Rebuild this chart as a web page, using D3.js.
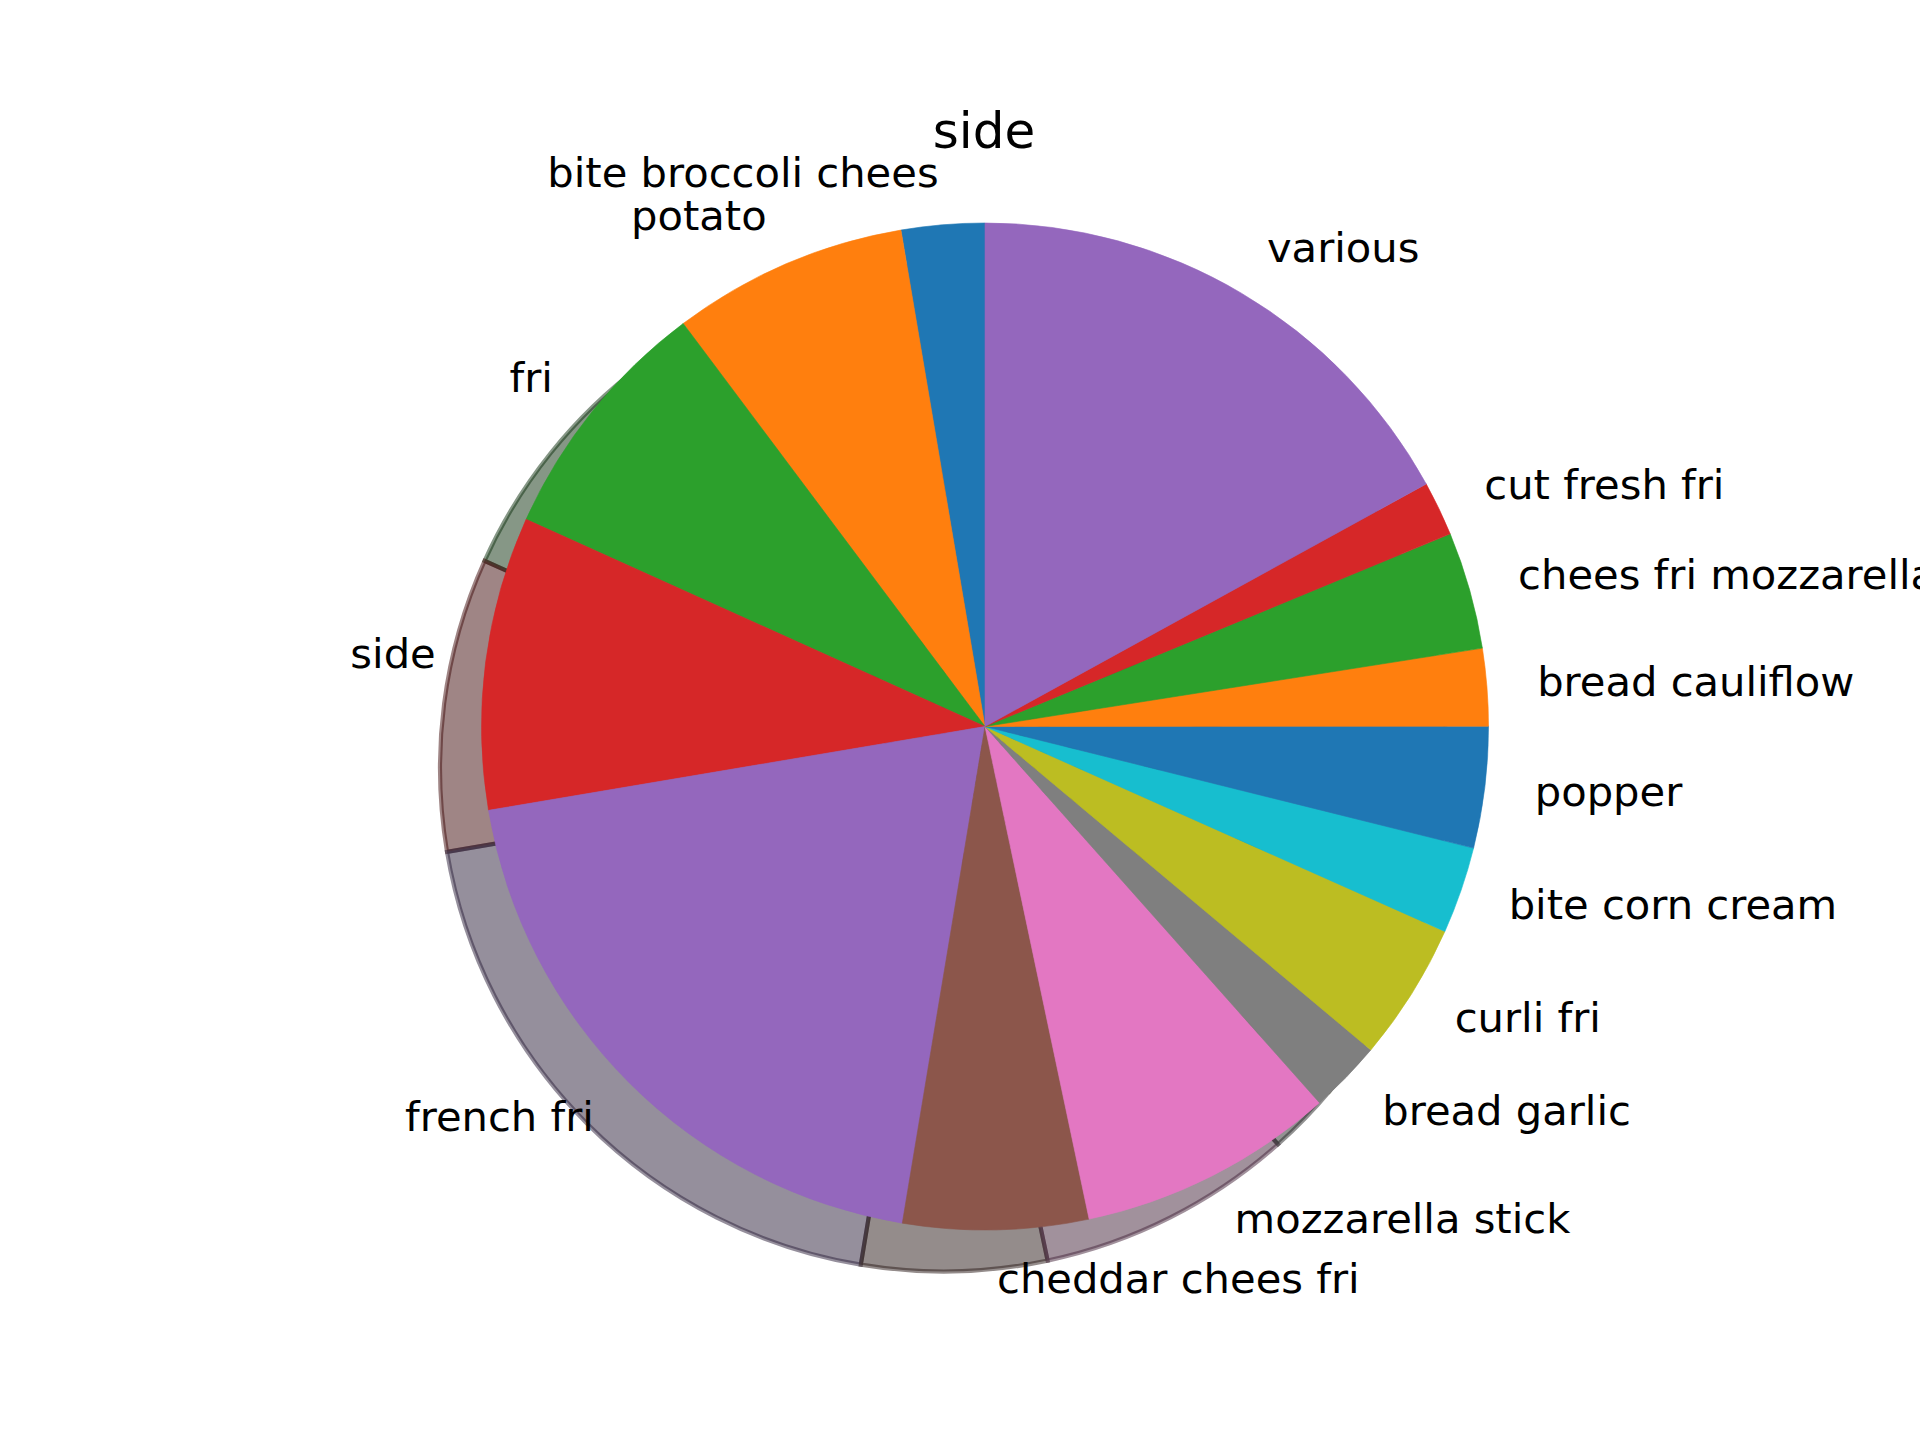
<!DOCTYPE html>
<html>
<head>
<meta charset="utf-8">
<script src="https://cdn.jsdelivr.net/npm/d3@7"></script>
<style>
  html, body { margin: 0; padding: 0; background: #ffffff; }
  svg { display: block; }
  text { font-family: "DejaVu Sans", sans-serif; fill: #000; }
</style>
</head>
<body>
<script>
// ---- data (share of total, %), counterclockwise from the top ----
const categories = [
  "bite broccoli chees", "potato", "fri", "side", "french fri",
  "cheddar chees fri", "mozzarella stick", "bread garlic", "curli fri",
  "bite corn cream", "popper", "bread cauliflow", "chees fri mozzarella",
  "cut fresh fri", "various"
];
const values = [
  2.67, 7.56, 8.02, 9.41, 19.71,
  5.94, 8.25, 2.33, 4.43,
  2.79, 3.89, 2.48, 3.76,
  1.75, 17.00
];
const title = "side";
const palette = ["#1f77b4", "#ff7f0e", "#2ca02c", "#d62728", "#9467bd",
                 "#8c564b", "#e377c2", "#7f7f7f", "#bcbd22", "#17becf"];

// ---- layout ----
const W = 1920, H = 1440;
const cx = 985, cy = 726.5, R = 503.5;
const labelR = R * 1.1;
const shadowOff = 41.5;

const data = categories.map((c, i) => ({ name: c, value: values[i], color: palette[i % palette.length] }));

const svg = d3.select("body").append("svg")
  .attr("width", W).attr("height", H)
  .attr("viewBox", `0 0 ${W} ${H}`);

svg.append("rect").attr("width", W).attr("height", H).attr("fill", "#fff");

const pie = d3.pie().value(d => d.value).sort(null)
  .startAngle(0).endAngle(-2 * Math.PI);
const arcs = pie(data);
const arc = d3.arc().innerRadius(0).outerRadius(R);

function shadowColor(c) {
  const r = d3.rgb(c);
  return d3.rgb(r.r * 0.3, r.g * 0.3, r.b * 0.3).formatHex();
}

// shadows (under wedges)
const gShadow = svg.append("g").attr("transform", `translate(${cx - shadowOff},${cy + shadowOff})`);
gShadow.selectAll("path").data(arcs).join("path")
  .attr("d", arc)
  .attr("fill", d => shadowColor(d.data.color))
  .attr("fill-opacity", 0.5)
  .attr("stroke", d => shadowColor(d.data.color))
  .attr("stroke-opacity", 0.5)
  .attr("stroke-width", 4.17)
  .attr("stroke-linejoin", "miter");

// wedges
const gPie = svg.append("g").attr("transform", `translate(${cx},${cy})`);
gPie.selectAll("path").data(arcs).join("path")
  .attr("d", arc)
  .attr("fill", d => d.data.color)
  .attr("stroke", d => d.data.color)
  .attr("stroke-width", 0.6);

// labels
gPie.selectAll("text.lbl").data(arcs).join("text")
  .attr("class", "lbl")
  .each(function(d) {
    const a = (d.startAngle + d.endAngle) / 2;
    const x = labelR * Math.sin(a);
    const y = -labelR * Math.cos(a);
    d3.select(this)
      .attr("x", x).attr("y", y)
      .attr("dy", "0.30em")
      .attr("text-anchor", x > 0 ? "start" : "end");
  })
  .style("font-size", "41.67px")
  .text(d => d.data.name);

// title
svg.append("text")
  .attr("x", 984).attr("y", 148)
  .attr("text-anchor", "middle")
  .style("font-size", "50px")
  .text(title);
</script>
</body>
</html>
